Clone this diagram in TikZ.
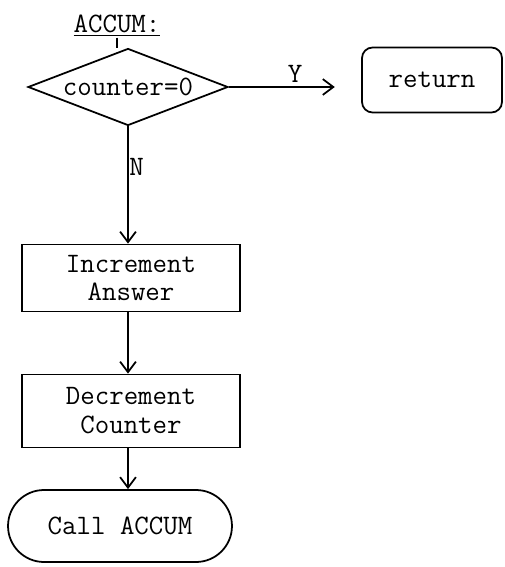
\documentclass[tikz,border=0pt]{standalone}
\usepackage{fontspec}
\usepackage{tikz}
\usetikzlibrary{positioning,shapes.geometric,shapes.misc,arrows.meta}

\begin{document}
\begin{tikzpicture}[x=0.02cm,y=-0.02cm,>={Straight Barb[length=6pt,width=9pt]},
  font=\ttfamily\fontsize{16}{16.5}\selectfont,line width=1pt,
  proc/.style={draw,rectangle,minimum width=4.36cm,align=center,inner sep=0pt},
  term/.style={draw,rounded rectangle,inner sep=0pt},
  decide/.style={draw,diamond,aspect=2.6,inner sep=0pt,minimum width=4.0cm,minimum height=1.54cm}]
\useasboundingbox (0,0) rectangle (504,567);
% entry label and the test
\node[inner sep=0pt] (accum) at (117,26) {\underline{ACCUM:}};
\node[decide] (dia) at (128,87) {counter=0};
\node[draw,rounded corners=6pt,minimum width=2.8cm,minimum height=1.3cm,inner sep=0pt] (ret) at (432,80) {return};
% boxes down the N branch
\node[proc,minimum height=1.34cm] (inc) at (131,278) {Increment\\Answer};
\node[proc,minimum height=1.46cm] (dec) at (131,411) {Decrement\\Counter};
\node[term,minimum width=4.48cm,minimum height=1.44cm] (call) at (120,526) {Call ACCUM};
% connectors
\draw (accum.south) -- (accum.south |- dia.north);
\draw[->,shorten >=15] (dia.east) -- (ret.west |- dia.east) node[midway,above=-1pt] {Y};
\draw[->] (dia.south) -- (dia.south |- inc.north) node[pos=0.35,right=-3pt] {N};
\draw[->] (inc.south -| dia.south) -- (dec.north -| dia.south);
\draw[->] (dec.south -| dia.south) -- (call.north -| dia.south);
\end{tikzpicture}
\end{document}
